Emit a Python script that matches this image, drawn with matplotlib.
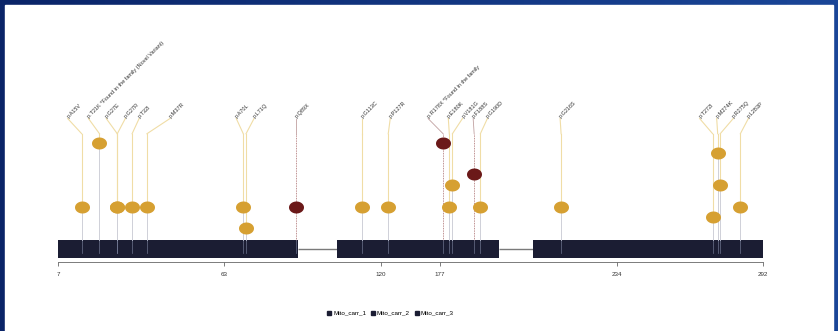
import numpy as np
import matplotlib
matplotlib.use("Agg")
import matplotlib.pyplot as plt
from matplotlib.path import Path
from matplotlib.lines import Line2D
from matplotlib.patches import Rectangle

plt.rcParams['font.family'] = ['Liberation Sans', 'DejaVu Sans']

# ---------------- data ----------------
tick_values = [7, 63, 120, 177, 234, 292]
domain_names = ['Mito_carr_1', 'Mito_carr_2', 'Mito_carr_3']
domain_starts = [7, 104, 207]
domain_ends = [90, 196, 292]

mut_labels = ['p.A15V', 'p.T21K *Found in the family (Novel Variant)', 'p.G27E', 'p.G27R',
              'p.T32I', 'p.M37R', 'p.A70L', 'p.L71Q', 'p.Q89X', 'p.G113C', 'p.P127R',
              'p.R178X *Found in the family', 'p.E180K', 'p.V181G', 'p.F188S', 'p.G190D',
              'p.G216S', 'p.T272I', 'p.M274K', 'p.R275Q', 'p.L283P']
mut_positions = [15, 21, 27, 27, 32, 37, 70, 71, 89, 113, 127,
                 178, 180, 181, 188, 190, 216, 272, 274, 275, 283]
mut_scores = [1.0, 2.94, 1.0, 1.0, 1.0, 1.0, 1.0, 0.36, 1.0, 1.0, 1.0,
              2.94, 1.0, 1.67, 2.0, 1.0, 1.0, 0.70, 2.64, 1.67, 1.0]
mut_classes = ['m', 'm', 'm', 'm', 'm', 'm', 'm', 'm', 't', 'm', 'm',
               't', 'm', 'm', 't', 'm', 'm', 'm', 'm', 'm', 'm']

# ---------------- layout ----------------
W, H = 838, 331
tick_px = [58, 224, 381, 440, 617, 763]          # display scale of the residue axis
s0 = (tick_px[1] - tick_px[0]) / (tick_values[1] - tick_values[0])
s1 = (tick_px[-1] - tick_px[-2]) / (tick_values[-1] - tick_values[-2])
res_ext = np.array([tick_values[0] - 2000] + tick_values + [tick_values[-1] + 2000], float)
px_ext = np.array([tick_px[0] - 2000 * s0] + tick_px + [tick_px[-1] + 2000 * s1], float)

def fwd(x):
    return np.interp(x, res_ext, px_ext)

def inv(p):
    return np.interp(p, px_ext, res_ext)

label_dx = [-14, -11, -11, 8, 7, 23, -7, 8, 0, 0, 2,
            -15, -1, 10, -1, 7, -1, -13, -1, 13, 8]   # label offsets (pixels)

unit = 33.0                 # pixels per score unit
bar_top_px = 240
bar_h = 18 / unit
axis_y = -22 / unit
bend_y = 3.22
label_y = 3.68

col_mis = '#D6A032'
col_tr = '#6B1919'
col_dom = '#1B1D33'

fig = plt.figure(figsize=(W / 100, H / 100), dpi=100)

# background frame
bg = fig.add_axes([0, 0, 1, 1], zorder=-10)
grad = np.linspace(0, 1, 256)[None, :]
bg.imshow(grad, aspect='auto', extent=[0, 1, 0, 1],
          cmap=matplotlib.colors.LinearSegmentedColormap.from_list('b', ['#0a2468', '#1a4698']))
bg.add_patch(Rectangle((5 / W, 0), (W - 10) / W, (H - 5) / H, color='white', zorder=2))
bg.set_xlim(0, 1)
bg.set_ylim(0, 1)
bg.axis('off')

ax = fig.add_axes([0, 0, 1, 1])
ax.set_zorder(1)
ax.patch.set_alpha(0)
ax.set_xscale('function', functions=(fwd, inv))
ax.set_xlim(inv(0), inv(W))
ax.set_ylim((bar_top_px - H) / unit, bar_top_px / unit)

# backbone
for i in range(len(domain_starts) - 1):
    ax.plot([domain_ends[i], domain_starts[i + 1]], [-bar_h / 2] * 2,
            color='#7a7a7a', lw=1.0, zorder=1, solid_capstyle='butt')
# domains
ax.barh([-bar_h / 2] * 3, np.array(domain_ends) - np.array(domain_starts), left=domain_starts,
        height=bar_h, color=col_dom, zorder=2)

# stalks, connectors, labels
for lab, pos, sc, cl, dx in zip(mut_labels, mut_positions, mut_scores, mut_classes, label_dx):
    lx = inv(fwd(pos) + dx)
    if cl == 'm':
        ax.plot([pos, pos], [0, sc], color='#cfd0d8', lw=0.7, zorder=3)
        ax.plot([pos, pos], [sc, bend_y], color='#F0DDA6', lw=0.8, zorder=3)
        ax.plot([pos, lx], [bend_y, label_y], color='#F0DDA6', lw=0.8, zorder=3)
    else:
        ax.plot([pos, pos], [0, bend_y], color='#a86a6a', lw=0.6, ls=(0, (1, 1)), zorder=3)
        ax.plot([pos, lx], [bend_y, label_y], color='#c0a0a0', lw=0.6, zorder=3)
    ax.plot([pos, pos], [0, -bar_h * 0.7], color='#8088a4', lw=0.5, alpha=0.8, zorder=4)
    ax.text(lx, label_y + 0.03, lab, rotation=45, rotation_mode='anchor', ha='left',
            va='center', fontsize=4, color='#333333', zorder=6)

# lollipop heads
t = np.linspace(0, 2 * np.pi, 64)
ell = Path(np.column_stack([np.cos(t), 0.8 * np.sin(t)]), closed=True)
for pos, sc, cl in zip(mut_positions, mut_scores, mut_classes):
    ax.plot([pos], [sc], marker=ell, markersize=10.8, ls='',
            color=col_mis if cl == 'm' else col_tr, mew=0, zorder=5)

# axis
for side in ['left', 'right', 'top']:
    ax.spines[side].set_visible(False)
ax.spines['bottom'].set_position(('data', axis_y))
ax.spines['bottom'].set_bounds(tick_values[0], tick_values[-1])
ax.spines['bottom'].set_color('#666666')
ax.spines['bottom'].set_linewidth(0.6)
ax.set_xticks(tick_values)
ax.set_xticklabels([str(v) for v in tick_values])
ax.xaxis.set_minor_locator(matplotlib.ticker.NullLocator())
ax.tick_params(axis='x', length=3, width=0.6, color='#666666', labelsize=4.5,
               labelcolor='#333333', pad=4)
ax.set_yticks([])

handles = [Line2D([], [], marker='s', ls='', color=col_dom, markersize=3.5, label=n)
           for n in domain_names]
fig.legend(handles=handles, loc='center', bbox_to_anchor=(390 / W, 1 - 313 / H), ncol=3,
           frameon=False, fontsize=4.5, handletextpad=0.2, columnspacing=0.7,
           handlelength=0.8)

fig.savefig('out.png', dpi=100)
